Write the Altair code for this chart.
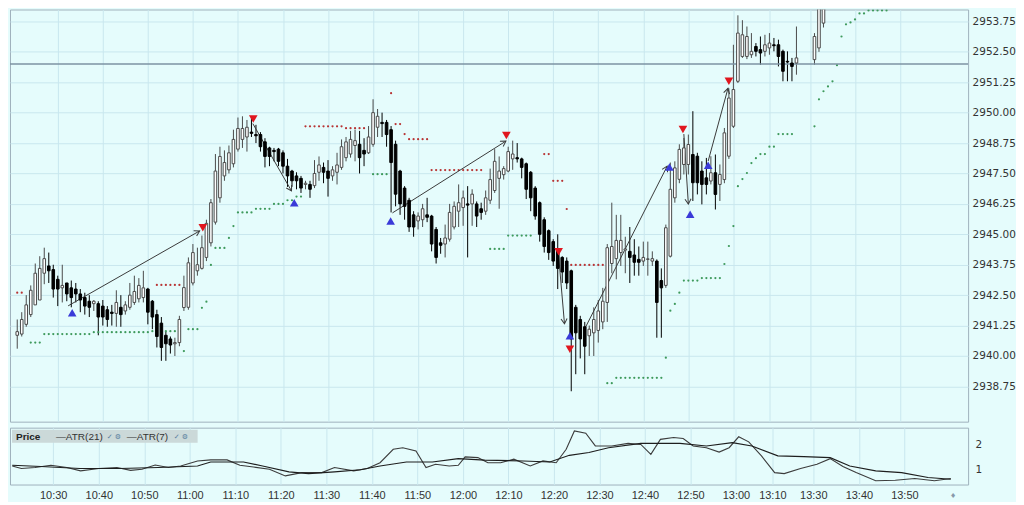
import math
import altair as alt
import pandas as pd

# ---------------- data ----------------
# 1-minute bars, bar index 0 = 10:21 ; None = no bar
opens = [
 2940.85, 2940.9, 2941.3, 2941.7, 2942.1, 2942.3, 2943.4, 2943.7, 2943.55, 2943.15,
 2942.8, 2943.0, 2942.8, 2942.75, 2942.55, 2942.4, 2942.25, 2942.15, 2942.15, 2942.05,
 2941.9, 2941.8, 2941.75, 2942.0, 2941.85, 2942.0, 2942.2, 2942.35, 2942.4, 2942.75,
 2942.25, 2941.7, 2941.35, 2940.85, 2940.7, 2940.5, 2940.55, 2941.99, 2942.0, 2943.0,
 2943.5, 2943.6, 2944.05, 2944.65, 2945.5, 2946.5, 2947.4, 2947.65, 2947.9, 2948.5,
 2948.9, 2949.0, 2949.2, 2949.1, 2949.1, 2948.8, 2948.55, 2948.45, 2948.5, 2948.35,
 2947.8, 2947.6, 2947.4, 2947.3, 2947.05, 2947.05, 2947.0, 2947.55, 2947.75, 2947.6,
 2947.4, 2947.55, 2947.75, 2948.15, 2948.3, 2948.65, 2948.7, 2948.45, 2948.35, 2948.7,
 2949.4, 2949.6, 2949.6, 2949.3, 2948.7, 2947.6, 2946.9, 2946.4, 2945.8, 2945.55,
 2945.6, 2945.8, 2945.75, 2945.2, 2944.65, 2944.6, 2944.8, 2945.3, 2945.95, 2946.1,
 2946.25, 2946.25, 2946.25, 2946.05, 2945.95, 2946.4, 2946.8, 2947.3, 2947.45, 2947.6,
 2948.1, 2948.15, 2948.1, 2947.9, 2947.55, 2946.9, 2946.3, 2945.6, 2945.15, 2944.7,
 2944.4, 2944.05, 2943.9, 2943.5, 2942.0, 2941.5, 2941.2, 2940.83, 2940.95, 2941.05,
 2941.4, 2942.2, 2943.8, 2944.0, 2944.25, 2944.35, 2944.3, 2944.15, 2943.97, 2943.9,
 2943.97, 2943.9, 2943.9, 2943.1, 2942.9, 2944.1, 2946.5, 2947.26, 2947.87, 2947.87,
 2948.28, 2948.21, 2947.6, 2947.32, 2947.19, 2947.53, 2947.05, 2947.25, 2948.21, 2949.44,
 2951.29, 2952.31, 2952.31, 2952.38, 2952.72, 2952.59, 2952.52, 2952.66, 2952.79, 2952.79,
 2952.52, 2952.11, 2952.04, 2952.04, None, None, None, 2952.18, 2952.66, 2953.68,
 2954.45]
highs = [
 2941.5, 2941.8, 2942.5, 2942.9, 2943.8, 2944.1, 2944.45, 2944.25, 2943.75, 2943.3,
 2943.75, 2943.0, 2943.1, 2943.0, 2942.75, 2942.6, 2942.5, 2942.3, 2942.25, 2942.3,
 2942.05, 2942.1, 2942.7, 2942.5, 2942.25, 2943.0, 2943.3, 2943.2, 2943.5, 2942.8,
 2942.3, 2941.9, 2941.6, 2941.0, 2940.8, 2940.75, 2941.65, 2943.3, 2944.05, 2944.6,
 2944.45, 2944.95, 2945.6, 2946.45, 2948.3, 2948.6, 2948.45, 2948.65, 2949.3, 2949.8,
 2949.85, 2949.7, 2949.8, 2949.5, 2949.2, 2948.95, 2948.6, 2948.55, 2948.55, 2948.45,
 2948.1, 2947.65, 2947.55, 2947.4, 2947.2, 2947.2, 2948.05, 2948.2, 2947.95, 2948.05,
 2947.8, 2948.35, 2948.9, 2949.0, 2949.25, 2949.3, 2949.25, 2948.95, 2949.45, 2950.55,
 2950.15, 2950.0, 2949.7, 2949.45, 2948.85, 2947.65, 2946.98, 2946.5, 2945.95, 2945.9,
 2946.25, 2946.5, 2945.8, 2945.3, 2944.85, 2945.4, 2946.25, 2946.35, 2947.05, 2946.8,
 2946.98, 2946.85, 2946.35, 2946.3, 2946.8, 2947.7, 2948.5, 2948.2, 2947.8, 2948.6,
 2948.85, 2948.75, 2948.15, 2947.95, 2947.6, 2946.98, 2946.35, 2945.7, 2945.2, 2944.8,
 2945.0, 2944.1, 2944.05, 2943.55, 2942.1, 2941.65, 2941.4, 2941.25, 2942.0, 2942.3,
 2942.8, 2944.6, 2946.3, 2945.8, 2945.8, 2944.9, 2945.3, 2944.8, 2944.5, 2944.7,
 2944.7, 2944.3, 2943.97, 2943.6, 2945.4, 2947.95, 2948.0, 2948.7, 2948.96, 2949.1,
 2950.06, 2948.35, 2948.0, 2948.14, 2948.21, 2948.28, 2947.87, 2949.37, 2951.0, 2952.79,
 2954.0, 2953.8, 2953.54, 2953.27, 2952.86, 2953.13, 2953.2, 2953.27, 2953.07, 2953.0,
 2952.59, 2952.52, 2952.25, 2953.54, None, None, None, 2953.27, 2955.2, 2956.0,
 2956.4]
lows = [
 2940.3, 2940.8, 2941.2, 2941.6, 2942.1, 2942.3, 2942.95, 2943.0, 2942.4, 2942.05,
 2942.2, 2942.25, 2942.0, 2942.2, 2941.8, 2941.7, 2941.6, 2941.85, 2940.85, 2941.25,
 2941.2, 2941.25, 2941.2, 2941.2, 2941.7, 2941.9, 2942.1, 2942.2, 2942.2, 2941.3,
 2941.1, 2940.35, 2939.8, 2939.8, 2940.1, 2940.0, 2940.4, 2941.85, 2941.9, 2942.9,
 2943.3, 2943.55, 2943.9, 2944.5, 2945.4, 2946.3, 2947.2, 2947.5, 2947.75, 2948.4,
 2948.55, 2948.4, 2949.0, 2948.75, 2948.4, 2947.75, 2947.8, 2948.0, 2947.8, 2947.5,
 2946.95, 2946.95, 2946.85, 2946.7, 2946.85, 2946.5, 2946.9, 2947.2, 2947.1, 2946.55,
 2947.2, 2947.05, 2947.65, 2948.0, 2948.15, 2948.0, 2947.5, 2947.8, 2948.3, 2948.6,
 2949.0, 2949.0, 2948.6, 2945.9, 2946.15, 2945.8, 2945.6, 2945.1, 2944.9, 2945.2,
 2945.3, 2945.5, 2944.3, 2943.8, 2944.2, 2944.05, 2944.7, 2945.2, 2945.3, 2945.35,
 2944.05, 2945.35, 2945.3, 2945.6, 2945.8, 2946.25, 2946.7, 2946.05, 2947.25, 2947.55,
 2947.65, 2947.95, 2947.3, 2946.45, 2945.95, 2945.6, 2944.7, 2944.25, 2943.95, 2943.7,
 2942.75, 2943.0, 2942.75, 2938.55, 2939.25, 2939.9, 2939.25, 2940.0, 2940.0, 2940.55,
 2941.1, 2941.4, 2943.4, 2943.15, 2943.7, 2943.4, 2943.0, 2943.3, 2943.3, 2943.7,
 2943.3, 2943.7, 2940.75, 2940.75, 2942.8, 2944.05, 2946.3, 2947.1, 2947.46, 2947.46,
 2946.37, 2946.64, 2946.23, 2946.64, 2947.05, 2946.02, 2946.37, 2947.1, 2948.1, 2949.37,
 2951.22, 2952.25, 2952.2, 2952.25, 2952.31, 2951.97, 2952.31, 2952.38, 2952.52, 2951.9,
 2951.29, 2951.29, 2951.29, 2951.56, None, None, None, 2951.97, 2952.5, 2953.5,
 2954.3]
closes = [
 2941.0, 2941.5, 2942.1, 2942.7, 2943.4, 2943.6, 2944.0, 2943.5, 2942.75, 2942.75,
 2942.9, 2942.55, 2942.4, 2942.55, 2942.3, 2942.05, 2942.0, 2942.25, 2941.6, 2941.6,
 2941.5, 2941.75, 2942.2, 2941.7, 2942.1, 2942.5, 2942.65, 2942.9, 2942.8, 2941.8,
 2941.6, 2940.8, 2940.35, 2940.5, 2940.45, 2940.55, 2941.5, 2942.81, 2943.83, 2944.25,
 2943.75, 2944.45, 2945.45, 2946.3, 2947.6, 2948.2, 2947.95, 2948.35, 2948.9, 2949.35,
 2949.35, 2949.4, 2949.15, 2949.05, 2948.6, 2948.2, 2948.2, 2948.4, 2948.0, 2947.8,
 2947.4, 2947.2, 2947.2, 2946.9, 2947.1, 2946.85, 2947.5, 2947.85, 2947.55, 2947.3,
 2947.65, 2947.85, 2948.6, 2948.8, 2948.9, 2948.85, 2948.15, 2948.3, 2949.0, 2950.0,
 2949.85, 2949.55, 2949.1, 2947.95, 2946.65, 2946.25, 2946.15, 2945.3, 2945.3, 2945.75,
 2946.05, 2945.7, 2944.6, 2944.05, 2944.55, 2944.85, 2945.9, 2946.15, 2946.3, 2946.5,
 2946.2, 2946.65, 2945.75, 2945.9, 2946.5, 2947.25, 2948.0, 2947.6, 2947.7, 2948.4,
 2948.3, 2948.1, 2947.75, 2946.85, 2946.5, 2945.75, 2945.0, 2944.5, 2944.25, 2943.9,
 2943.6, 2943.45, 2943.0, 2940.7, 2940.95, 2940.7, 2940.4, 2941.1, 2941.5, 2941.85,
 2942.25, 2944.45, 2944.5, 2944.75, 2944.75, 2944.4, 2944.05, 2943.85, 2943.85, 2944.05,
 2943.99, 2944.0, 2942.2, 2942.8, 2945.27, 2946.85, 2947.73, 2948.49, 2948.55, 2948.69,
 2947.12, 2947.12, 2947.05, 2947.05, 2947.53, 2946.64, 2947.46, 2949.17, 2950.6, 2950.95,
 2953.27, 2953.2, 2953.13, 2952.52, 2952.52, 2952.45, 2952.79, 2952.86, 2952.75, 2952.31,
 2951.7, 2952.08, 2951.9, 2952.25, None, None, None, 2953.13, 2954.8, 2955.5,
 2956.0]

# trailing-stop dots: (first bar, last bar, price)
green_runs = [
 (3, 5, 2940.55), (6, 16, 2940.9), (17, 29, 2940.98), (30, 36, 2941.02), (37, 37, 2940.2),
 (38, 40, 2941.1), (41, 41, 2941.98), (42, 42, 2942.23), (43, 43, 2943.74), (44, 46, 2944.44),
 (47, 47, 2944.85), (48, 48, 2945.34), (49, 52, 2945.9), (53, 56, 2946.05), (57, 59, 2946.25),
 (60, 61, 2946.4), (62, 63, 2946.55), (79, 82, 2947.47), (105, 108, 2944.4), (109, 114, 2944.95),
 (131, 132, 2938.88), (133, 143, 2939.1), (144, 144, 2939.93), (145, 145, 2941.86),
 (146, 146, 2942.14), (147, 147, 2942.6), (148, 151, 2943.1), (152, 156, 2943.2),
 (157, 157, 2943.78), (158, 158, 2944.52), (159, 159, 2945.34), (160, 160, 2946.98),
 (161, 161, 2947.27), (162, 162, 2947.52), (163, 163, 2947.93), (164, 164, 2948.13),
 (165, 166, 2948.3), (167, 168, 2948.6), (169, 172, 2949.12), (177, 177, 2949.44),
 (178, 178, 2950.55), (179, 179, 2950.88), (180, 180, 2951.08), (181, 181, 2951.29),
 (182, 182, 2951.95), (183, 183, 2953.13), (184, 184, 2953.63), (185, 185, 2953.71),
 (186, 186, 2953.83), (187, 188, 2954.08), (189, 193, 2954.2)]
red_runs = [
 (0, 1, 2942.6), (31, 36, 2942.92), (64, 72, 2949.44), (73, 77, 2949.36), (83, 83, 2950.8),
 (84, 85, 2949.53), (86, 86, 2949.12), (87, 91, 2948.91), (92, 103, 2947.64),
 (117, 118, 2948.3), (119, 121, 2947.2), (122, 122, 2946.04), (123, 130, 2943.74)]

# signal triangles (bar position, price)
sell_x = [41.2, 52.4, 108.6, 120.2, 122.7, 147.8, 158.0]
sell_p = [2945.27, 2949.74, 2949.06, 2944.28, 2940.28, 2949.31, 2951.29]
buy_x = [12.2, 61.5, 82.9, 122.7, 144.8, 149.4, 153.4]
buy_p = [2941.78, 2946.3, 2945.55, 2940.83, 2947.77, 2945.82, 2947.84]

# arrows: start bar, start price, end bar, end price
arrow_x0 = [11.3, 52.3, 83.3, 120.2, 126.0, 148.0, 153.4]
arrow_p0 = [2942.06, 2949.55, 2945.88, 2944.11, 2941.12, 2949.12, 2948.01]
arrow_x1 = [40.5, 60.9, 108.5, 121.5, 144.3, 149.0, 157.8]
arrow_p1 = [2945.14, 2946.78, 2948.83, 2941.32, 2947.8, 2946.24, 2951.0]

hline_price = 2952.0

# ATR pane (bar position, value)
atr7_x = [0, 2, 5, 8.5, 12, 15, 19, 23, 26, 28.5, 31.4, 34.3, 37, 40.7, 43.6, 47.2, 50, 53,
          56.5, 60, 63.6, 68, 70.8, 75, 78, 80.8, 83.7, 85.8, 88.7, 90.9, 93, 96, 98, 99.5,
          102.3, 104.5, 107.3, 110.2, 113.8, 116.6, 119.5, 121.7, 123.5, 126, 128.1, 131.7,
          135.3, 138.1, 140.3, 142.4, 145.3, 147.4, 149.6, 152.5, 155.3, 157.5, 159.6, 161.8,
          164.6, 167.5, 169.6, 173.2, 176.8, 179.7, 182.5, 185.4, 189.7, 194, 198.3, 202.6, 206.2]
atr7_v = [1.14, 1.04, 1.08, 1.17, 1.08, 0.95, 1.04, 1.08, 0.97, 1.01, 1.18, 1.08, 1.14, 1.34,
          1.38, 1.38, 1.17, 1.10, 1.01, 0.75, 0.88, 0.88, 1.08, 0.95, 1.04, 1.27, 1.80, 1.86,
          1.73, 1.08, 1.21, 1.14, 1.17, 1.50, 1.47, 1.27, 1.27, 1.41, 1.14, 1.34, 1.27, 1.80,
          2.52, 2.43, 1.93, 1.93, 2.03, 1.99, 1.60, 2.19, 2.26, 2.22, 1.93, 1.86, 1.69, 1.86,
          2.29, 2.09, 1.54, 0.88, 0.84, 1.04, 1.21, 1.43, 1.12, 0.88, 0.56, 0.58, 0.65, 0.56, 0.65]
atr21_x = [0, 6.3, 14.9, 23.5, 32.1, 40.7, 43.6, 50.8, 55, 60.8, 65.1, 70.8, 76.5, 80.8, 86.6,
           92.3, 98, 103.8, 112.3, 118.1, 122.4, 126.7, 131, 138.1, 146.7, 152.5, 158.2, 162.5,
           168.2, 173.9, 179.7, 184, 189.7, 195.4, 201.2, 206.2]
atr21_v = [1.17, 1.12, 1.04, 1.04, 1.08, 1.14, 1.30, 1.30, 1.14, 0.91, 0.84, 0.91, 0.99, 1.14,
           1.30, 1.30, 1.43, 1.37, 1.34, 1.30, 1.56, 1.67, 1.86, 2.03, 2.03, 1.93, 2.06, 1.93,
           1.54, 1.51, 1.47, 1.14, 0.95, 0.88, 0.69, 0.62]

time_ticks = [9, 19, 29, 39, 49, 59, 69, 79, 89, 99, 109, 119, 129, 139, 149, 159, 167, 176, 186, 196]
time_labels = ["10:30", "10:40", "10:50", "11:00", "11:10", "11:20", "11:30", "11:40", "11:50",
               "12:00", "12:10", "12:20", "12:30", "12:40", "12:50", "13:00", "13:10", "13:30",
               "13:40", "13:50"]
price_ticks = [2938.75, 2940.0, 2941.25, 2942.5, 2943.75, 2945.0, 2946.25, 2947.5, 2948.75,
               2950.0, 2951.25, 2952.5, 2953.75]
atr_ticks = [1, 2]

# ---------------- layout / style ----------------
W = 960
H_MAIN = 413
H_ATR = 57
X_DOMAIN = [-0.5, 210.0]
P_DOMAIN = [2937.30, 2954.24]
A_DOMAIN = [0.41, 2.65]
BG = "#e5fcfc"
GRID = "#c9e7ee"
TXT = "#333333"

# ---------------- tables ----------------
candles = pd.DataFrame([
    {"i": i, "o": o, "h": h, "l": l, "c": c}
    for i, (o, h, l, c) in enumerate(zip(opens, highs, lows, closes)) if o is not None
])
dots = pd.DataFrame(
    [{"i": i, "p": p, "kind": "g"} for a, b, p in green_runs for i in range(a, b + 1)]
    + [{"i": i, "p": p, "kind": "r"} for a, b, p in red_runs for i in range(a, b + 1)]
)
sells = pd.DataFrame({"i": sell_x, "p": sell_p})
buys = pd.DataFrame({"i": buy_x, "p": buy_p})

pxb = W / (X_DOMAIN[1] - X_DOMAIN[0])
pxp = H_MAIN / (P_DOMAIN[1] - P_DOMAIN[0])
arrows = pd.DataFrame({"x0": arrow_x0, "p0": arrow_p0, "x1": arrow_x1, "p1": arrow_p1})
arrows["ang"] = [
    math.degrees(math.atan2((b - a) * pxb, (q - p) * pxp)) % 360
    for a, p, b, q in zip(arrow_x0, arrow_p0, arrow_x1, arrow_p1)
]
atr = pd.DataFrame(
    [{"i": x, "v": v, "s": "ATR(7)"} for x, v in zip(atr7_x, atr7_v)]
    + [{"i": x, "v": v, "s": "ATR(21)"} for x, v in zip(atr21_x, atr21_v)]
)

xs = alt.Scale(domain=X_DOMAIN, nice=False, zero=False)
ps = alt.Scale(domain=P_DOMAIN, nice=False, zero=False)
as_ = alt.Scale(domain=A_DOMAIN, nice=False, zero=False)

label_expr = ("[" + ",".join("'%s'" % t for t in time_labels) + "][indexof(["
              + ",".join(str(v) for v in time_ticks) + "], datum.value)]")

# identical axis definitions are given to every layer so that they merge cleanly
XM = alt.Axis(values=time_ticks, labels=False, ticks=False, domain=False,
              grid=True, gridColor=GRID, title=None)
YM = alt.Axis(orient="right", values=price_ticks, format=".2f", labelFont="DejaVu Sans",
              labelFontSize=10.5, labelColor=TXT, ticks=False, domain=False, grid=True,
              gridColor=GRID, title=None, labelPadding=4)


def X(field):
    return alt.X(field, scale=xs, axis=XM)


def Y(field):
    return alt.Y(field, scale=ps, axis=YM)


up = "datum.c >= datum.o"

wicks = alt.Chart(candles).mark_rule(strokeWidth=1, clip=True).encode(
    x=X("i:Q"), y=Y("l:Q"), y2="h:Q",
    color=alt.condition(up, alt.value("#4a4a4a"), alt.value("#000000")),
)
bodies = alt.Chart(candles).mark_bar(width=2.6, strokeWidth=1, clip=True).encode(
    x=X("i:Q"), y=Y("o:Q"), y2="c:Q",
    fill=alt.condition(up, alt.value("#ffffff"), alt.value("#000000")),
    stroke=alt.condition(up, alt.value("#4a4a4a"), alt.value("#000000")),
)
dot_layer = alt.Chart(dots).mark_circle(size=5, opacity=1, clip=True).encode(
    x=X("i:Q"), y=Y("p:Q"),
    color=alt.Color("kind:N", scale=alt.Scale(domain=["g", "r"], range=["#3e9a5c", "#b83434"]),
                    legend=None),
)
hline = alt.Chart(alt.Data(values=[{"p": hline_price}])).mark_rule(
    color="#7d93a3", strokeWidth=1.5).encode(y=Y("p:Q"))
arrow_lines = alt.Chart(arrows).mark_rule(color="#3a3a3a", strokeWidth=1, clip=True).encode(
    x=X("x0:Q"), y=Y("p0:Q"), x2="x1:Q", y2="p1:Q")
arrow_heads = alt.Chart(arrows).mark_point(
    shape="M-0.5,0.85L0,0L0.5,0.85", filled=False, size=150, strokeWidth=1,
    color="#3a3a3a", opacity=1, clip=True).encode(
    x=X("x1:Q"), y=Y("p1:Q"), angle=alt.Angle("ang:Q", scale=None))
sell_marks = alt.Chart(sells).mark_point(shape="triangle-down", filled=True, size=75,
                                          color="#e0161e", opacity=1, clip=True).encode(
    x=X("i:Q"), y=Y("p:Q"))
buy_marks = alt.Chart(buys).mark_point(shape="triangle-up", filled=True, size=75,
                                        color="#3a3ad8", opacity=1, clip=True).encode(
    x=X("i:Q"), y=Y("p:Q"))

main = alt.layer(wicks, dot_layer, hline, arrow_lines, bodies, arrow_heads,
                 sell_marks, buy_marks).properties(width=W, height=H_MAIN)

# ---------------- ATR pane ----------------
x_atr_axis = alt.Axis(values=time_ticks, labelExpr=label_expr, ticks=False, domain=False,
                      grid=True, gridColor=GRID, labelFont="Liberation Sans", labelFontSize=11,
                      labelColor=TXT, labelPadding=5, title=None, labelOverlap=False)
y_atr_axis = alt.Axis(orient="right", values=atr_ticks, format="d", ticks=False, domain=False,
                      grid=False, labelFont="DejaVu Sans", labelFontSize=10.5, labelColor=TXT,
                      labelPadding=7, title=None)

atr_lines = alt.Chart(atr).mark_line(strokeWidth=1.1, clip=True).encode(
    x=alt.X("i:Q", scale=xs, axis=x_atr_axis),
    y=alt.Y("v:Q", scale=as_, axis=y_atr_axis),
    color=alt.Color("s:N", scale=alt.Scale(domain=["ATR(21)", "ATR(7)"],
                                           range=["#1e1e1e", "#3c3c3c"]), legend=None),
    detail="s:N",
)
one = alt.Data(values=[{"k": 0}])
legend_bg = alt.Chart(one).mark_rect(color="#cbd9d9").encode(
    x=alt.value(2), x2=alt.value(188), y=alt.value(2), y2=alt.value(15))
legend_price = alt.Chart(one).mark_text(text="Price", font="Liberation Sans", fontSize=10,
                                        fontWeight="bold", color="#222", align="left",
                                        baseline="middle").encode(x=alt.value(6), y=alt.value(9))
legend_a21 = alt.Chart(one).mark_text(text="—ATR(21)", font="Liberation Sans", fontSize=10,
                                      color="#333", align="left", baseline="middle").encode(
    x=alt.value(46), y=alt.value(9))
legend_i1 = alt.Chart(one).mark_text(text="✓ ⚙", font="DejaVu Sans", fontSize=7,
                                     color="#5a7fa0", align="left", baseline="middle").encode(
    x=alt.value(97), y=alt.value(9))
legend_a7 = alt.Chart(one).mark_text(text="—ATR(7)", font="Liberation Sans", fontSize=10,
                                     color="#333", align="left", baseline="middle").encode(
    x=alt.value(117), y=alt.value(9))
legend_i2 = alt.Chart(one).mark_text(text="✓ ⚙", font="DejaVu Sans", fontSize=7,
                                     color="#5a7fa0", align="left", baseline="middle").encode(
    x=alt.value(164), y=alt.value(9))
axis_mark = alt.Chart(one).mark_text(text="♦", font="DejaVu Sans", fontSize=7, color="#8899aa",
                                     align="center", baseline="middle").encode(
    x=alt.value(945), y=alt.value(H_ATR + 11))

lower = alt.layer(atr_lines, legend_bg, legend_price, legend_a21, legend_i1, legend_a7,
                  legend_i2, axis_mark).properties(width=W, height=H_ATR)

chart = alt.vconcat(main, lower, spacing=4).resolve_scale(color="independent").properties(
    padding=0).configure(background=BG).configure_view(stroke="#9fb2bd", strokeWidth=1)

chart.save("out.html", embed_options={"renderer": "svg", "actions": False})
